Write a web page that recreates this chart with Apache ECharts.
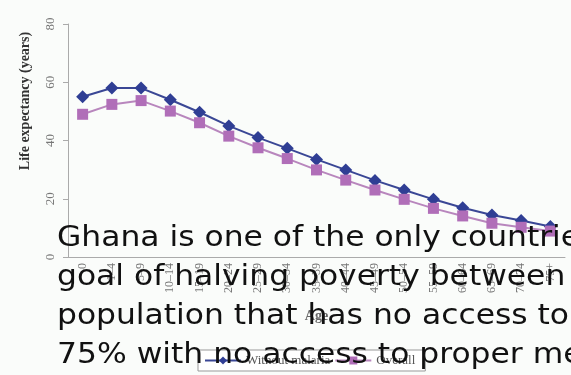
<!DOCTYPE html>
<html lang="en">
<head>
  <meta charset="UTF-8">
  <title>Life expectancy - Ghana</title>
  <script src="https://cdn.jsdelivr.net/npm/echarts@6.0.0/dist/echarts.min.js"></script>
  <style>
    body { margin: 0; background: #fafcfa; }
  </style>
</head>
<body>

  <div id="main" style="width: 571px;height:375px;"></div>

  <script type="text/javascript">
    // Age groups on the x axis
    const ageGroups = ['0', '1–4', '5–9', '10–14', '15–19', '20–24', '25–29', '30–34', '35–39',
      '40–44', '45–49', '50–54', '55–59', '60–64', '65–69', '70–74', '75+'];

    // Life expectancy
    const withoutMalaria = [55, 58, 58, 54, 49.7, 45, 41, 37.3, 33.5, 29.9, 26.3, 23, 19.8, 16.9, 14.4, 12.5, 10.5];
    const overall = [49, 52.4, 53.7, 50.1, 46.1, 41.5, 37.5, 33.8, 29.9, 26.4, 23, 19.8, 16.7, 14.1, 11.6, 10.2, 8.9];

    const yTicks = [0, 20, 40, 60, 80];

    // Slide text drawn over the chart
    const overlayLines = [
      'Ghana is one of the only countries',
      'goal of halving poverty between',
      'population that has no access to',
      '75% with no access to proper medical'
    ];

    let myChart = echarts.init(document.getElementById('main'));

    const serif = '"Liberation Serif", "DejaVu Serif", serif';

    let options = {
      backgroundColor: '#fafcfa',
      animation: false,
      grid: { left: 68, right: 6, top: 24, bottom: 118 },
      xAxis: {
        type: 'category',
        data: ageGroups,
        name: 'Age',
        nameLocation: 'middle',
        nameGap: 52,
        nameTextStyle: { fontFamily: serif, fontSize: 14, fontWeight: 'bold', color: '#666' },
        axisLine: { lineStyle: { color: '#aaa' } },
        axisTick: { lineStyle: { color: '#aaa' }, length: 5 },
        axisLabel: { rotate: 90, fontFamily: serif, fontSize: 12, color: '#777', margin: 6 }
      },
      yAxis: {
        type: 'value',
        min: yTicks[0],
        max: yTicks[yTicks.length - 1],
        interval: 20,
        axisLine: { show: true, lineStyle: { color: '#aaa' } },
        axisTick: { show: true, lineStyle: { color: '#aaa' }, length: 5 },
        splitLine: { show: false },
        axisLabel: { rotate: 90, fontFamily: serif, fontSize: 13, color: '#777', margin: 11 }
      },
      legend: {
        left: 198,
        top: 350,
        padding: [4, 10, 4, 6],
        itemGap: 4,
        itemWidth: 36,
        itemHeight: 10,
        borderColor: '#999',
        borderWidth: 1,
        backgroundColor: '#fff',
        textStyle: { fontFamily: serif, fontSize: 13, color: '#555' },
        data: ['Without malaria', 'Overall']
      },
      series: [
        {
          name: 'Without malaria',
          type: 'line',
          data: withoutMalaria,
          symbol: 'diamond',
          symbolSize: 13,
          itemStyle: { color: '#2f3e94' },
          lineStyle: { color: '#3a4795', width: 2 }
        },
        {
          name: 'Overall',
          type: 'line',
          data: overall,
          symbol: 'rect',
          symbolSize: 11,
          itemStyle: { color: '#b06eb8' },
          lineStyle: { color: '#b886bd', width: 2 }
        }
      ],
      graphic: [
        {
          type: 'text',
          x: 25, y: 101,
          rotation: Math.PI / 2,
          style: {
            text: 'Life expectancy (years)',
            font: 'bold 14px ' + serif,
            fill: '#333',
            align: 'center',
            verticalAlign: 'middle'
          }
        }
      ].concat(overlayLines.map((line, i) => ({
        type: 'text',
        x: 57,
        y: 239 + i * 39,
        z: 100,
        scaleX: 1.12,
        style: {
          text: line,
          font: '28px "DejaVu Sans", sans-serif',
          fill: '#111',
          verticalAlign: 'middle'
        }
      })))
    };

    myChart.setOption(options);
  </script>
</body>
</html>
